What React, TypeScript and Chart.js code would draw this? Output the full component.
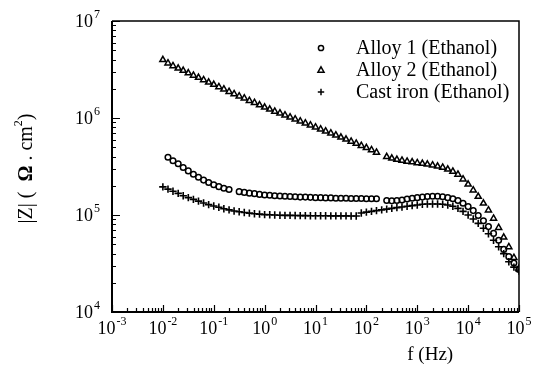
import { useEffect, useRef } from 'react';
import { Chart, registerables } from 'chart.js';

Chart.register(...registerables);

// ---------- data ----------
const frequencies = [
  0.01, 0.0126, 0.0158, 0.02, 0.0251, 0.0316, 0.0398, 0.0501, 0.0631, 0.0794,
  0.1, 0.126, 0.158, 0.2, 0.251, 0.316, 0.398, 0.501, 0.631, 0.794,
  1, 1.26, 1.58, 2, 2.51, 3.16, 3.98, 5.01, 6.31, 7.94,
  10, 12.6, 15.8, 20, 25.1, 31.6, 39.8, 50.1, 63.1, 79.4,
  100, 126, 158, 200, 251, 316, 398, 501, 631, 794,
  1000, 1260, 1580, 2000, 2510, 3160, 3980, 5010, 6310, 7940,
  10000, 12600, 15800, 20000, 25100, 31600, 39800, 50100, 63100, 79400,
  100000,
];

const alloy1 = [
  null, 3.94e5, 3.63e5, 3.37e5, 3.09e5, 2.85e5, 2.63e5, 2.45e5, 2.29e5, 2.16e5,
  2.05e5, 1.96e5, 1.89e5, 1.83e5, null, 1.74e5, 1.71e5, 1.68e5, 1.66e5, 1.63e5,
  1.61e5, 1.6e5, 1.58e5, 1.57e5, 1.56e5, 1.55e5, 1.54e5, 1.53e5, 1.53e5, 1.52e5,
  1.51e5, 1.51e5, 1.5e5, 1.5e5, 1.49e5, 1.49e5, 1.49e5, 1.48e5, 1.48e5, 1.48e5,
  1.47e5, 1.47e5, 1.47e5, null, 1.41e5, 1.4e5, 1.41e5, 1.43e5, 1.46e5, 1.49e5,
  1.51e5, 1.53e5, 1.55e5, 1.56e5, 1.56e5, 1.54e5, 1.51e5, 1.47e5, 1.41e5, 1.32e5,
  1.22e5, 1.11e5, 9.89e4, 8.71e4, 7.59e4, 6.46e4, 5.5e4, 4.42e4, 3.72e4, 3.2e4,
  2.75e4,
];

const alloy2 = [
  3.98e6, 3.67e6, 3.44e6, 3.25e6, 3.08e6, 2.91e6, 2.75e6, 2.61e6, 2.47e6, 2.33e6,
  2.21e6, 2.09e6, 1.98e6, 1.87e6, 1.77e6, 1.68e6, 1.6e6, 1.51e6, 1.44e6, 1.36e6,
  1.29e6, 1.23e6, 1.17e6, 1.12e6, 1.07e6, 1.02e6, 9.73e5, 9.27e5, 8.85e5, 8.43e5,
  8.05e5, 7.67e5, 7.31e5, 6.97e5, 6.64e5, 6.32e5, 6.03e5, 5.74e5, 5.46e5, 5.19e5,
  4.93e5, 4.68e5, 4.42e5, null, 3.98e5, 3.84e5, 3.73e5, 3.65e5, 3.57e5, 3.51e5,
  3.44e5, 3.39e5, 3.33e5, 3.26e5, 3.18e5, 3.09e5, 2.96e5, 2.81e5, 2.62e5, 2.34e5,
  2.07e5, 1.8e5, 1.55e5, 1.32e5, 1.12e5, 9.23e4, 7.41e4, 5.89e4, 4.68e4, 3.63e4,
  2.82e4,
];

const castIron = [
  1.95e5, 1.85e5, 1.76e5, 1.67e5, 1.58e5, 1.51e5, 1.45e5, 1.39e5, 1.33e5, 1.28e5,
  1.24e5, 1.2e5, 1.16e5, 1.13e5, 1.1e5, 1.08e5, 1.06e5, 1.045e5, 1.03e5, 1.02e5,
  1.01e5, 1.005e5, 1.0e5, 9.95e4, 9.92e4, 9.9e4, 9.88e4, 9.86e4, 9.85e4, 9.84e4,
  9.83e4, 9.82e4, 9.81e4, 9.8e4, 9.8e4, 9.79e4, 9.79e4, 9.78e4, 9.78e4, 1.05e5,
  1.07e5, 1.09e5, 1.11e5, 1.13e5, 1.15e5, 1.17e5, 1.19e5, 1.21e5, 1.23e5, 1.25e5,
  1.27e5, 1.29e5, 1.3e5, 1.3e5, 1.3e5, 1.29e5, 1.27e5, 1.23e5, 1.17e5, 1.09e5,
  1.0e5, 9.1e4, 8.2e4, 7.3e4, 6.4e4, 5.5e4, 4.7e4, 4.0e4, 3.3e4, 2.9e4,
  2.65e4,
];

const seriesLabels = ['Alloy 1 (Ethanol)', 'Alloy 2 (Ethanol)', 'Cast iron (Ethanol)'];
const xTickExponents = [-3, -2, -1, 0, 1, 2, 3, 4, 5];
const yTickExponents = [4, 5, 6, 7];
const xTitle = 'f (Hz)';
const yTitleParts = ['|Z| (  ', 'Ω', ' . cm', '2', ')'];

const FONT = '"Liberation Serif", "Times New Roman", serif';

function toPoints(values: (number | null)[]) {
  const pts: { x: number; y: number }[] = [];
  values.forEach((v, i) => {
    if (v !== null) pts.push({ x: frequencies[i], y: v });
  });
  return pts;
}

function drawMarker(ctx: CanvasRenderingContext2D, style: string, x: number, y: number, r: number) {
  ctx.beginPath();
  if (style === 'circle') {
    ctx.arc(x, y, r, 0, Math.PI * 2);
  } else if (style === 'triangle') {
    ctx.moveTo(x, y - r);
    ctx.lineTo(x + r * 0.95, y + r * 0.7);
    ctx.lineTo(x - r * 0.95, y + r * 0.7);
    ctx.closePath();
  } else {
    ctx.moveTo(x - r, y);
    ctx.lineTo(x + r, y);
    ctx.moveTo(x, y - r);
    ctx.lineTo(x, y + r);
  }
  ctx.stroke();
}

function drawPow(
  ctx: CanvasRenderingContext2D,
  exp: string,
  x: number,
  y: number,
  align: 'center' | 'right'
) {
  ctx.font = `18px ${FONT}`;
  const wb = ctx.measureText('10').width;
  ctx.font = `12px ${FONT}`;
  const we = ctx.measureText(exp).width;
  const total = wb + we + 1;
  const sx = align === 'center' ? x - total / 2 : x - total;
  ctx.textAlign = 'left';
  ctx.textBaseline = 'middle';
  ctx.font = `18px ${FONT}`;
  ctx.fillText('10', sx, y);
  ctx.font = `12px ${FONT}`;
  ctx.fillText(exp, sx + wb + 1, y - 7);
}

const framePlugin = {
  id: 'frameAndText',
  afterDraw(chart: any) {
    const { ctx, chartArea: a, scales } = chart;
    const xs = scales.x;
    const ys = scales.y;
    ctx.save();
    ctx.strokeStyle = '#000';
    ctx.fillStyle = '#000';
    ctx.lineCap = 'butt';

    // frame
    ctx.lineWidth = 2;
    ctx.beginPath();
    ctx.moveTo(a.left, a.top);
    ctx.lineTo(a.left, a.bottom);
    ctx.lineTo(a.right, a.bottom);
    ctx.stroke();
    ctx.lineWidth = 1.5;
    ctx.beginPath();
    ctx.moveTo(a.left, a.top);
    ctx.lineTo(a.right, a.top);
    ctx.lineTo(a.right, a.bottom);
    ctx.stroke();

    // ticks
    ctx.lineWidth = 1.2;
    ctx.beginPath();
    xTickExponents.forEach((e) => {
      for (let m = 1; m < 10; m++) {
        const v = m * Math.pow(10, e);
        if (v > xs.max * 1.0001) break;
        const px = Math.round(xs.getPixelForValue(v)) + 0.5;
        const len = m === 1 ? 7 : 4;
        ctx.moveTo(px, a.bottom);
        ctx.lineTo(px, a.bottom - len);
      }
    });
    yTickExponents.forEach((e) => {
      for (let m = 1; m < 10; m++) {
        const v = m * Math.pow(10, e);
        if (v > ys.max * 1.0001) break;
        const py = Math.round(ys.getPixelForValue(v)) + 0.5;
        const len = m === 1 ? 8 : 4;
        ctx.moveTo(a.left, py);
        ctx.lineTo(a.left + len, py);
      }
    });
    ctx.stroke();

    // tick labels
    xTickExponents.forEach((e) => {
      const px = xs.getPixelForValue(Math.pow(10, e));
      drawPow(ctx, String(e), px, a.bottom + 17, 'center');
    });
    yTickExponents.forEach((e) => {
      const py = ys.getPixelForValue(Math.pow(10, e));
      drawPow(ctx, String(e), a.left - 12, py + 1, 'right');
    });

    // x title
    ctx.font = `19px ${FONT}`;
    ctx.textAlign = 'center';
    ctx.textBaseline = 'middle';
    ctx.fillText(xTitle, xs.getPixelForValue(1800), a.bottom + 43);

    // y title (rotated)
    ctx.save();
    ctx.translate(27, (a.top + a.bottom) / 2 + 2);
    ctx.rotate(-Math.PI / 2);
    const fonts = [`20px ${FONT}`, `bold 20px ${FONT}`, `20px ${FONT}`, `12px ${FONT}`, `20px ${FONT}`];
    const offs = [0, 0, 0, -8, 0];
    let total = 0;
    const widths = yTitleParts.map((t, i) => {
      ctx.font = fonts[i];
      const w = ctx.measureText(t).width;
      total += w;
      return w;
    });
    let cx = -total / 2;
    ctx.textAlign = 'left';
    ctx.textBaseline = 'middle';
    yTitleParts.forEach((t, i) => {
      ctx.font = fonts[i];
      ctx.fillText(t, cx, offs[i]);
      cx += widths[i];
    });
    ctx.restore();

    // legend
    const styles = ['circle', 'triangle', 'cross'];
    const radii = [2.6, 3.2, 3.2];
    ctx.lineWidth = 1.5;
    ctx.font = `20px ${FONT}`;
    ctx.textAlign = 'left';
    ctx.textBaseline = 'middle';
    seriesLabels.forEach((lbl, i) => {
      const y = a.top + 27 + i * 22;
      drawMarker(ctx, styles[i], a.left + 209, y, radii[i]);
      ctx.fillText(lbl, a.left + 244, y + 1);
    });

    ctx.restore();
  },
};

export default function App() {
  const canvasRef = useRef<HTMLCanvasElement | null>(null);

  useEffect(() => {
    if (!canvasRef.current) return;
    const chart = new Chart(canvasRef.current, {
      type: 'scatter',
      data: {
        datasets: [
          {
            label: seriesLabels[0],
            data: toPoints(alloy1),
            pointStyle: 'circle',
            pointRadius: 2.8,
            borderColor: '#000',
            backgroundColor: 'rgba(0,0,0,0)',
            pointBorderWidth: 1.5,
            showLine: false,
          },
          {
            label: seriesLabels[1],
            data: toPoints(alloy2),
            pointStyle: 'triangle',
            pointRadius: 3.5,
            borderColor: '#000',
            backgroundColor: 'rgba(0,0,0,0)',
            pointBorderWidth: 1.5,
            showLine: false,
          },
          {
            label: seriesLabels[2],
            data: toPoints(castIron),
            pointStyle: 'cross',
            pointRadius: 3.7,
            borderColor: '#000',
            backgroundColor: 'rgba(0,0,0,0)',
            pointBorderWidth: 1.6,
            showLine: false,
          },
        ],
      },
      options: {
        responsive: false,
        animation: false,
        devicePixelRatio: 1,
        layout: { padding: { top: 21, right: 15, left: 0, bottom: 0 } },
        plugins: {
          legend: { display: false },
          tooltip: { enabled: false },
        },
        scales: {
          x: {
            type: 'logarithmic',
            min: 1e-3,
            max: 1e5,
            grid: { display: false },
            border: { display: false },
            ticks: { display: false },
            afterFit: (s: any) => {
              s.height = 62;
            },
          },
          y: {
            type: 'logarithmic',
            min: 1e4,
            max: 1e7,
            grid: { display: false },
            border: { display: false },
            ticks: { display: false },
            afterFit: (s: any) => {
              s.width = 112;
            },
          },
        },
      },
      plugins: [framePlugin],
    });
    return () => chart.destroy();
  }, []);

  return (
    <div style={{ position: 'absolute', left: 0, top: 0, width: 534, height: 374, background: '#fff' }}>
      <canvas ref={canvasRef} width={534} height={374} style={{ display: 'block' }} />
    </div>
  );
}
